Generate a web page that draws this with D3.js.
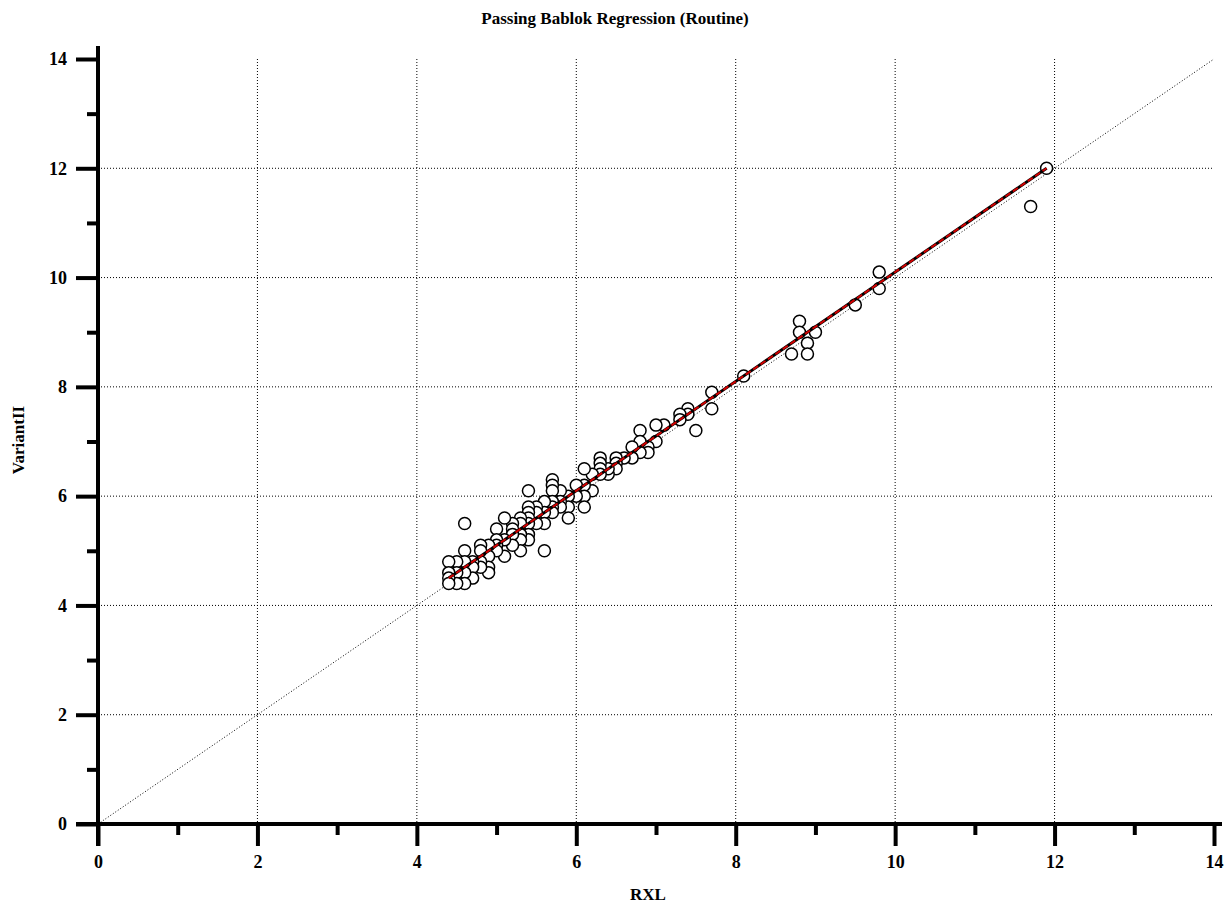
<!DOCTYPE html>
<html>
<head>
<meta charset="utf-8">
<script src="https://cdn.jsdelivr.net/npm/d3@7"></script>
<style>
  body { margin: 0; background: #fff; }
  text { font-family: "Liberation Serif", "Times New Roman", serif; font-weight: bold; }
</style>
</head>
<body>
<svg id="chart"></svg>
<script>
var width = 1230;
var height = 905;

// data: x = RXL, y = VariantII
var xVals = [11.9, 11.7, 9.8, 9.8, 9.5, 9.0, 8.8, 8.8, 8.9, 8.9, 8.7, 8.1, 7.7, 7.7, 7.5, 7.4, 7.4, 7.3, 7.3,
  7.1, 7.0, 7.0, 6.9, 6.9, 6.8, 6.8, 6.8, 6.7, 6.7, 6.6, 6.5, 6.5, 6.5, 6.4, 6.4, 6.3, 6.3, 6.3, 6.3,
  6.2, 6.2, 6.1, 6.1, 6.1, 6.1, 6.0, 6.0, 5.9, 5.9, 5.9, 5.8, 5.8, 5.8, 5.7, 5.7, 5.7, 5.7, 5.7, 5.7,
  5.6, 5.6, 5.6, 5.6, 5.5, 5.5, 5.5, 5.4, 5.4, 5.4, 5.4, 5.4, 5.4, 5.4, 5.3, 5.3, 5.3, 5.3, 5.3,
  5.2, 5.2, 5.2, 5.2, 5.1, 5.1, 5.1, 5.0, 5.0, 5.0, 5.0, 4.9, 4.9, 4.9, 4.9, 4.8, 4.8, 4.8, 4.8,
  4.7, 4.7, 4.7, 4.6, 4.6, 4.6, 4.6, 4.6, 4.5, 4.5, 4.5, 4.4, 4.4, 4.4, 4.4];
var yVals = [12.0, 11.3, 10.1, 9.8, 9.5, 9.0, 9.2, 9.0, 8.8, 8.6, 8.6, 8.2, 7.9, 7.6, 7.2, 7.6, 7.5, 7.5, 7.4,
  7.3, 7.3, 7.0, 6.9, 6.8, 7.2, 7.0, 6.8, 6.9, 6.7, 6.7, 6.7, 6.6, 6.5, 6.4, 6.5, 6.7, 6.6, 6.5, 6.4,
  6.4, 6.1, 6.5, 6.2, 6.0, 5.8, 6.2, 6.0, 6.0, 5.8, 5.6, 6.1, 5.9, 5.8, 6.3, 6.2, 6.1, 5.9, 5.8, 5.7,
  5.9, 5.7, 5.5, 5.0, 5.8, 5.7, 5.5, 6.1, 5.8, 5.7, 5.6, 5.5, 5.3, 5.2, 5.6, 5.5, 5.3, 5.2, 5.0,
  5.5, 5.4, 5.3, 5.1, 5.6, 5.2, 4.9, 5.4, 5.2, 5.1, 5.0, 5.1, 4.9, 4.7, 4.6, 5.1, 5.0, 4.8, 4.7,
  4.8, 4.7, 4.5, 5.5, 5.0, 4.8, 4.6, 4.4, 4.8, 4.6, 4.4, 4.8, 4.6, 4.5, 4.4];

// Passing-Bablok fit line and identity line
var fitLine = [{x: 4.4, y: 4.5}, {x: 11.9, y: 12.0}];
var identityLine = [{x: 0, y: 0}, {x: 14, y: 14}];

var majorTicks = [0, 2, 4, 6, 8, 10, 12, 14];
var minorTicks = [1, 3, 5, 7, 9, 11, 13];
var gridTicks = [2, 4, 6, 8, 10, 12];

var points = xVals.map(function(d, i) { return {x: d, y: yVals[i]}; });

var svg = d3.select("#chart")
    .attr("width", width)
    .attr("height", height);

// scale
var xScale = d3.scaleLinear().domain([0, 14]).range([98, 1214]);
var yScale = d3.scaleLinear().domain([0, 14]).range([824, 59]);

// grid
svg.append("g").selectAll("line")
    .data(gridTicks).enter().append("line")
    .attr("x1", function(d) { return xScale(d); })
    .attr("x2", function(d) { return xScale(d); })
    .attr("y1", yScale(14))
    .attr("y2", yScale(0))
    .style("stroke", "#000")
    .style("stroke-width", 1)
    .style("stroke-dasharray", "1,2");

svg.append("g").selectAll("line")
    .data(gridTicks).enter().append("line")
    .attr("x1", xScale(0))
    .attr("x2", xScale(14))
    .attr("y1", function(d) { return yScale(d); })
    .attr("y2", function(d) { return yScale(d); })
    .style("stroke", "#000")
    .style("stroke-width", 1)
    .style("stroke-dasharray", "1,2");

// identity line
var valueline = d3.line()
    .x(function(d) { return xScale(d.x); })
    .y(function(d) { return yScale(d.y); });

svg.append("path")
    .attr("d", valueline(identityLine))
    .style("fill", "none")
    .style("stroke", "#000")
    .style("stroke-width", 1)
    .style("stroke-dasharray", "1,2");

// points
svg.append("g").selectAll("circle")
    .data(points).enter().append("circle")
    .attr("cx", function(d) { return xScale(d.x); })
    .attr("cy", function(d) { return yScale(d.y); })
    .attr("r", 6)
    .style("fill", "#fff")
    .style("stroke", "#000")
    .style("stroke-width", 1.5);

// regression line: black under red dashes
svg.append("path")
    .attr("d", valueline(fitLine))
    .style("fill", "none")
    .style("stroke", "#000")
    .style("stroke-width", 3);

svg.append("path")
    .attr("d", valueline(fitLine))
    .style("fill", "none")
    .style("stroke", "#d00000")
    .style("stroke-width", 2)
    .style("stroke-dasharray", "6,3");

// axes
var xAxis = svg.append("g")
    .attr("transform", "translate(0," + yScale(0) + ")")
    .call(d3.axisBottom(xScale).tickValues(majorTicks).tickSize(22).tickFormat(d3.format("d")));

svg.append("g")
    .attr("transform", "translate(0," + yScale(0) + ")")
    .call(d3.axisBottom(xScale).tickValues(minorTicks).tickSize(11).tickFormat(""))
    .select(".domain").remove();

var yAxis = svg.append("g")
    .attr("transform", "translate(" + xScale(0) + ",0)")
    .call(d3.axisLeft(yScale).tickValues(majorTicks).tickSize(22).tickFormat(d3.format("d")));

svg.append("g")
    .attr("transform", "translate(" + xScale(0) + ",0)")
    .call(d3.axisLeft(yScale).tickValues(minorTicks).tickSize(11).tickFormat(""))
    .select(".domain").remove();

svg.selectAll(".tick line").style("stroke", "#000").style("stroke-width", 4);
svg.selectAll(".tick text")
    .style("font-family", "'Liberation Serif', serif")
    .style("font-weight", "bold")
    .style("font-size", "18px")
    .style("fill", "#000");
xAxis.selectAll(".tick text").attr("y", 31);
yAxis.selectAll(".tick text").attr("x", -31);

// replace domains with thick lines
xAxis.select(".domain").remove();
yAxis.select(".domain").remove();
svg.append("line")
    .attr("x1", 76).attr("x2", 1222)
    .attr("y1", yScale(0)).attr("y2", yScale(0))
    .style("stroke", "#000").style("stroke-width", 4);
svg.append("line")
    .attr("x1", xScale(0)).attr("x2", xScale(0))
    .attr("y1", 46).attr("y2", 846)
    .style("stroke", "#000").style("stroke-width", 4);

// titles
svg.append("text")
    .attr("text-anchor", "middle")
    .attr("x", 615).attr("y", 24)
    .style("font-size", "17px")
    .text("Passing Bablok Regression (Routine)");

svg.append("text")
    .attr("text-anchor", "middle")
    .attr("x", 648).attr("y", 900)
    .style("font-size", "17px")
    .text("RXL");

svg.append("text")
    .attr("text-anchor", "middle")
    .attr("transform", "translate(24,440)rotate(-90)")
    .style("font-size", "17px")
    .text("VariantII");
</script>
</body>
</html>
